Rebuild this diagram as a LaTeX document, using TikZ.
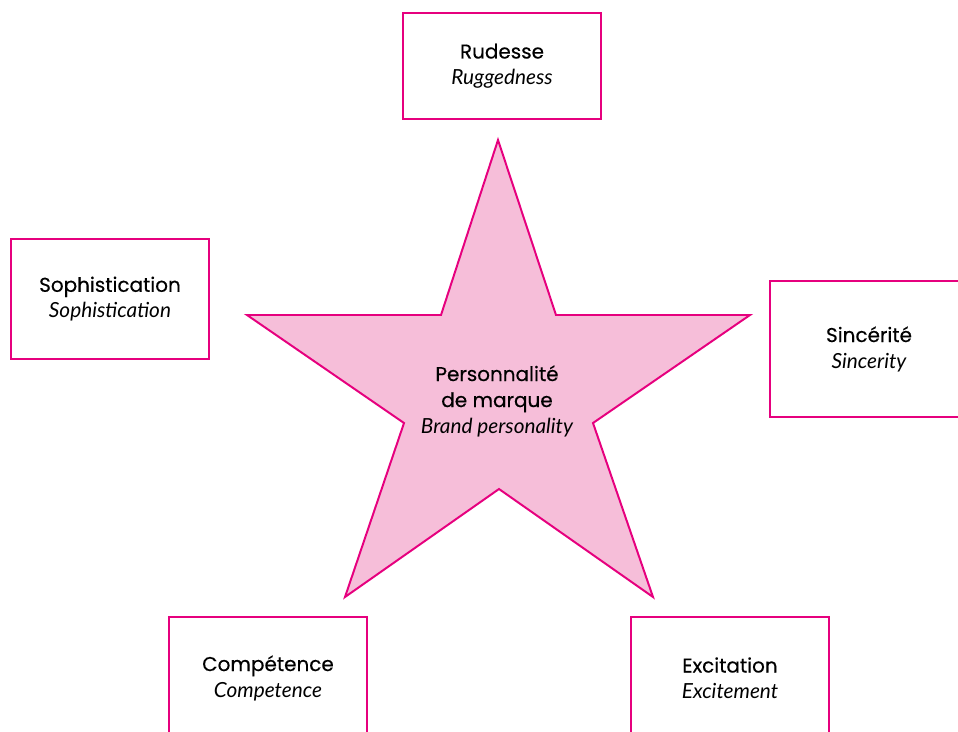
\documentclass[tikz,border=0pt]{standalone}
\usepackage{fontspec}
\setmainfont{Poppins}[FakeBold=0.35]
\newfontfamily\englfont{Lato}
\newcommand{\engl}[1]{{\englfont\itshape\fontsize{14.8}{18.5}\selectfont #1}}
\definecolor{brandpink}{HTML}{E6007E}
\definecolor{starpink}{HTML}{F6BED9}

\begin{document}
\begin{tikzpicture}[x=0.025cm, y=-0.025cm, font=\fontsize{14.2}{18.5}\selectfont,
  trait/.style={draw=brandpink, line width=1.4pt, fill=white, align=center,
                minimum width=4.93cm, inner sep=0pt},
  star/.style={draw=brandpink, line width=1.4pt, fill=starpink, line join=miter},
]
  \useasboundingbox (0,0) rectangle (958,731);

  % the star
  \draw[star] (498,140) -- (556,315) -- (750,315) -- (593,423) -- (653,597)
    -- (499,489) -- (345,597) -- (404,423) -- (247,315) -- (441,315) -- cycle;
  \node[align=center] (brand) at (497,401) {Personnalité\\de marque\\\engl{Brand personality}};

  % the five traits
  \node[trait, minimum height=2.65cm] (rud) at (502,66)  {Rudesse\\\engl{Ruggedness}};
  \node[trait, minimum height=3.0cm]  (sop) at (110,299) {Sophistication\\\engl{Sophistication}};
  \node[trait, minimum height=3.4cm]  (sin) at (869,349) {Sincérité\\\engl{Sincerity}};
  \node[trait, minimum height=3.05cm] (com) at (268,678) {Compétence\\\engl{Competence}};
  \node[trait, minimum height=3.05cm] (exc) at (730,678) {Excitation\\\engl{Excitement}};
\end{tikzpicture}
\end{document}
